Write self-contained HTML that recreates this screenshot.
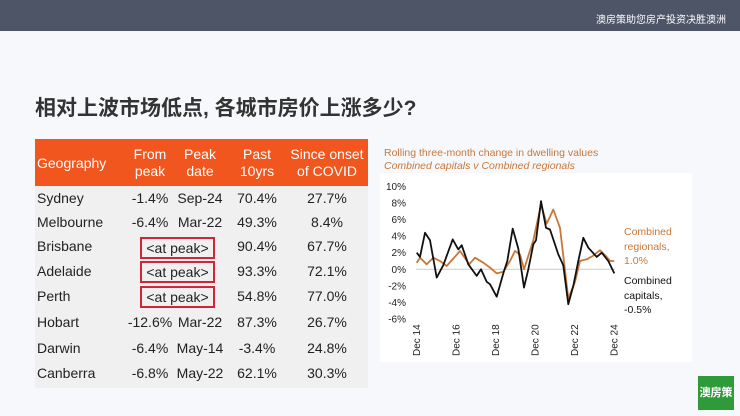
<!DOCTYPE html>
<html><head><meta charset="utf-8"><style>
*{margin:0;padding:0;box-sizing:border-box}
body{width:740px;height:416px;overflow:hidden;background:#f6f8fb;font-family:"Liberation Sans","Noto Sans CJK SC",sans-serif;position:relative}
.top{position:absolute;left:0;top:0;width:740px;height:31px;background:#4d5566}
.top span{position:absolute;right:14px;top:11px;color:#fff;font-size:10px}
h1{position:absolute;left:35px;top:92px;font-size:21px;font-weight:bold;color:#333;font-family:"Liberation Sans","Noto Sans CJK SC",sans-serif}
.tb{position:absolute;left:35px;top:186px;width:333px;height:202px;background:#f0f0f0}
.th{position:absolute;left:35px;top:139px;width:333px;height:47px;background:#f0561d}
.t{position:absolute;font-size:14px;color:#222;white-space:nowrap}
.h{position:absolute;font-size:14px;color:#fff;text-align:center;line-height:17px;white-space:nowrap}
.c{transform:translateX(-50%)}
.box{position:absolute;left:140px;width:75px;height:22px;border:2px solid #d0263a;text-align:center;font-size:14px;line-height:18px;color:#222}
.card{position:absolute;left:380px;top:173px;width:312px;height:189px;background:#fff}
</style></head><body>
<div class="top"><span>澳房策助您房产投资决胜澳洲</span></div>
<h1>相对上波市场低点, 各城市房价上涨多少?</h1>
<div class="th"></div><div class="tb"></div>
<div class="h" style="left:37px;top:155px">Geography</div>
<div class="h c" style="left:150px;top:146px">From<br>peak</div>
<div class="h c" style="left:200px;top:146px">Peak<br>date</div>
<div class="h c" style="left:257px;top:146px">Past<br>10yrs</div>
<div class="h c" style="left:327px;top:146px">Since onset<br>of COVID</div>
<div id="rows"></div>
<div class="box" style="top:237px">&lt;at peak&gt;</div>
<div class="box" style="top:261px">&lt;at peak&gt;</div>
<div class="box" style="top:286px">&lt;at peak&gt;</div>
<div class="card"></div>
<div style="position:absolute;left:384px;top:147px;font-size:10.5px;color:#c8773a;line-height:13px">Rolling three-month change in dwelling values<br><i>Combined capitals v Combined regionals</i></div>
<svg style="position:absolute;left:0;top:0" width="740" height="416" id="s"></svg>
<div style="position:absolute;left:698px;top:376px;width:36px;height:34px;background:#2f9a3a;color:#fff;font-size:11px;font-weight:bold;text-align:center;line-height:34px">澳房策</div>
<script>
var R=[["Sydney","-1.4%","Sep-24","70.4%","27.7%"],["Melbourne","-6.4%","Mar-22","49.3%","8.4%"],["Brisbane","","","90.4%","67.7%"],["Adelaide","","","93.3%","72.1%"],["Perth","","","54.8%","77.0%"],["Hobart","-12.6%","Mar-22","87.3%","26.7%"],["Darwin","-6.4%","May-14","-3.4%","24.8%"],["Canberra","-6.8%","May-22","62.1%","30.3%"]];
var ys=[199,223,247,272,297,323,349,374],xs=[150,200,257,327],h="";
R.forEach(function(r,i){var y=ys[i]-9;h+='<div class="t" style="left:37px;top:'+y+'px">'+r[0]+'</div>';for(var j=1;j<5;j++)if(r[j])h+='<div class="t c" style="left:'+xs[j-1]+'px;top:'+y+'px">'+r[j]+'</div>';});
document.getElementById("rows").innerHTML=h;
var s="",Y=function(v){return 269.3-v*8.3},X=function(zx){return 370+zx/3};
for(var v=10;v>=-6;v-=2)s+='<text x="406" y="'+(Y(v)+3.5)+'" font-size="10" fill="#222" text-anchor="end">'+v+'%</text>';
s+='<line x1="416" x2="615" y1="269.3" y2="269.3" stroke="#ccc" stroke-width="1"/>';
["Dec 14","Dec 16","Dec 18","Dec 20","Dec 22","Dec 24"].forEach(function(t,i){var x=416.7+i*39.5+3.5;s+='<text transform="translate('+x+',356) rotate(-90)" font-size="10" fill="#222">'+t+'</text>';});
var B=[[140,2],[150,1.5],[165,4.4],[180,3.5],[200,-1],[220,0.5],[248,3.6],[265,2.4],[275,2.9],[295,0.6],[320,-0.8],[333,0],[350,-1.5],[360,-1.8],[380,-3.3],[400,-0.5],[412,1],[428,4.9],[445,2.5],[462,-2.2],[475,0],[490,3],[498,3.5],[513,8.2],[528,5],[540,4.8],[550,3.6],[565,1.8],[580,0.5],[595,-4.2],[610,-2],[625,1],[640,3.8],[655,2.6],[680,1.5],[695,2],[715,1],[733,-0.5]];
var O=[[140,0.8],[150,1.4],[170,0.6],[190,1.4],[210,1],[230,0.4],[270,2.2],[298,0.6],[315,1.4],[340,0.8],[360,0.2],[380,-0.5],[400,-0.3],[420,1],[435,2.2],[450,1.8],[462,0],[490,3.5],[513,7.8],[530,5.5],[550,7.2],[570,5],[595,-3.5],[615,-1.5],[630,1],[650,1.2],[668,1.6],[690,2.3],[710,1.5],[720,1],[733,1]];
function P(a,c){return '<polyline fill="none" stroke="'+c+'" stroke-width="1.8" stroke-linejoin="round" points="'+a.map(function(p){return X(p[0]).toFixed(1)+','+Y(p[1]).toFixed(1)}).join(' ')+'"/>';}
s+=P(O,"#c8773a")+P(B,"#111");
s+='<text font-size="10.5" fill="#c8773a"><tspan x="624" y="235">Combined</tspan><tspan x="624" y="250">regionals,</tspan><tspan x="624" y="264">1.0%</tspan></text>';
s+='<text font-size="10.5" fill="#111"><tspan x="624" y="284">Combined</tspan><tspan x="624" y="299">capitals,</tspan><tspan x="624" y="313">-0.5%</tspan></text>';
document.getElementById("s").innerHTML=s;
</script>
</body></html>
